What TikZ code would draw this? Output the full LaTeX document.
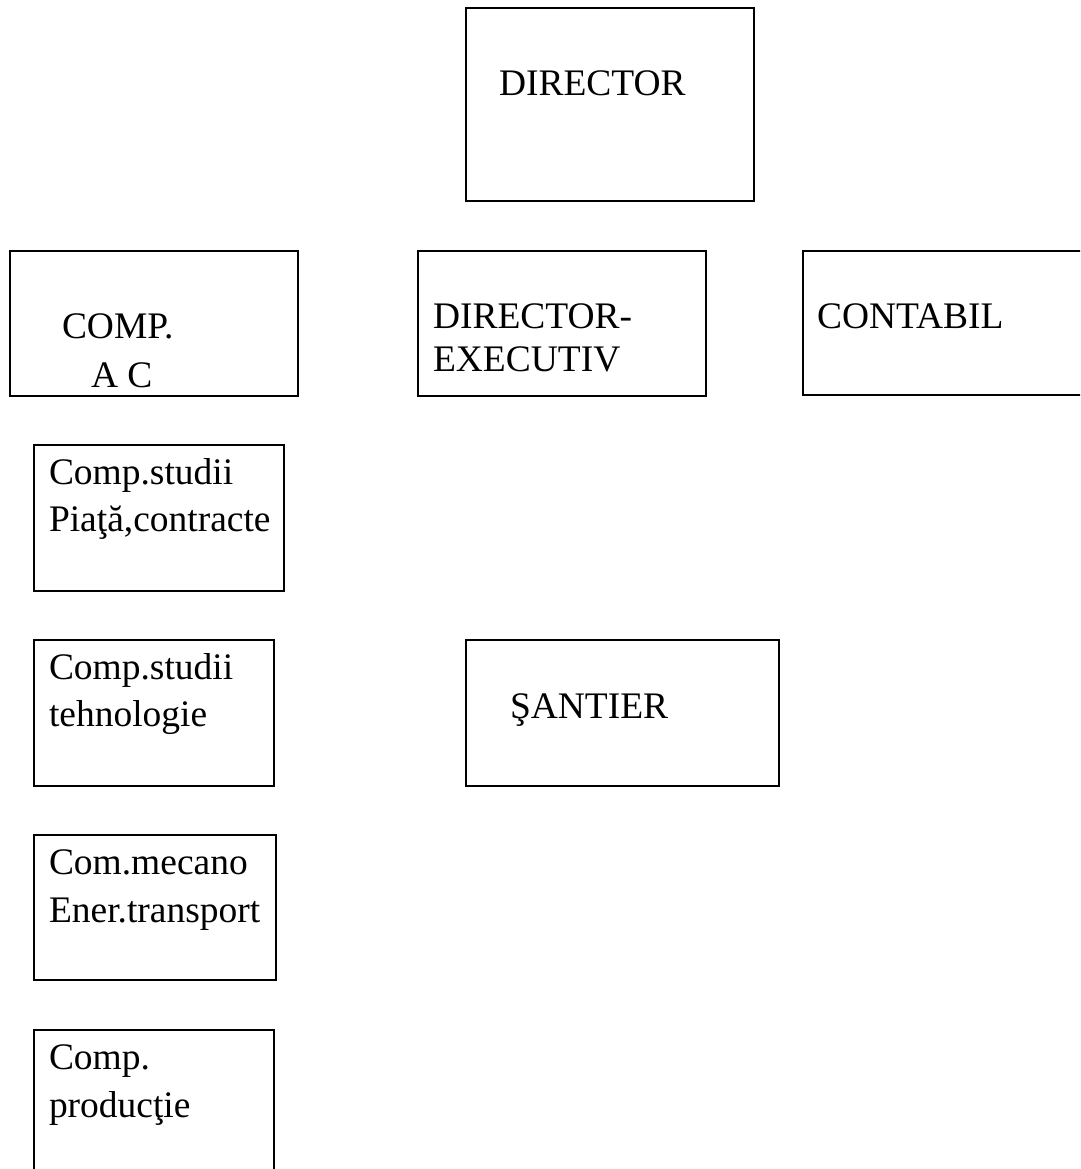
\documentclass[tikz,border=0pt]{standalone}
\usepackage{fontspec}
\setmainfont{Liberation Serif}
\begin{document}
\begin{tikzpicture}[x=0.75pt,y=-0.75pt,
  box/.style 2 args={draw=black, line width=1.9pt, minimum width=#1*0.75pt, minimum height=#2*0.75pt, anchor=north west, inner sep=0pt, outer sep=0pt},
  lbl/.style={anchor=base west, inner sep=0pt, outer sep=0pt, font=\fontsize{28.1pt}{33pt}\selectfont}]
\useasboundingbox (0,0) rectangle (1080,1169);
\clip (0,0) rectangle (1080,1169);
\fill[white] (0,0) rectangle (1080,1169);
% boxes
\node[box={288}{193}] (dir) at (466,8) {};
\node[box={288}{145}] (comp) at (10,251) {};
\node[box={288}{145}] (de) at (418,251) {};
\node[box={300}{144}] (cont) at (803,251) {};
\node[box={250}{146}] (s1) at (34,445) {};
\node[box={240}{146}] (s2) at (34,640) {};
\node[box={313}{146}] (sant) at (466,640) {};
\node[box={242}{145}] (s3) at (34,835) {};
\node[box={240}{160}] (s4) at (34,1030) {};
% texts
\node[lbl] (tdir) at (499,96) {DIRECTOR};
\node[lbl] (tcomp1) at (62,338) {COMP.};
\node[lbl] (tcomp2) at (91,387) {A C};
\node[lbl] (tde1) at (433,328) {DIRECTOR-};
\node[lbl] (tde2) at (433,371) {EXECUTIV};
\node[lbl] (tcont) at (817,328) {CONTABIL};
\node[lbl] (ts1a) at (49,484) {Comp.studii};
\node[lbl] (ts1b) at (49,531) {Piaţă,contracte};
\node[lbl] (ts2a) at (49,679) {Comp.studii};
\node[lbl] (ts2b) at (49,726) {tehnologie};
\node[lbl] (tsant) at (510,718) {ŞANTIER};
\node[lbl] (ts3a) at (49,874) {Com.mecano};
\node[lbl] (ts3b) at (49,922) {Ener.transport};
\node[lbl] (ts4a) at (49,1069) {Comp.};
\node[lbl] (ts4b) at (49,1117) {producţie};
\end{tikzpicture}
\end{document}
